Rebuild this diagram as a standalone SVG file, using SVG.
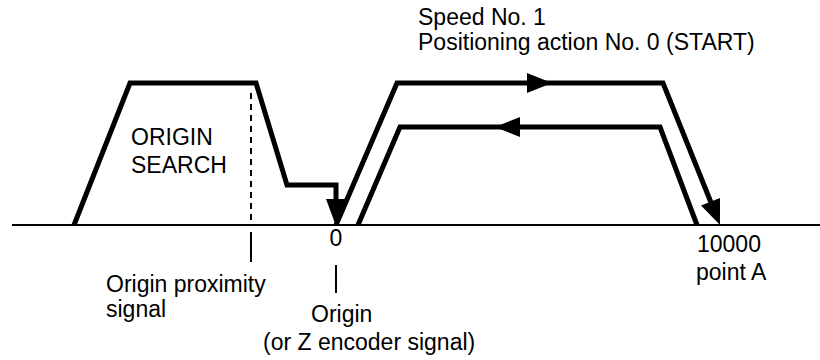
<svg xmlns="http://www.w3.org/2000/svg" width="820" height="360" viewBox="0 0 820 360">
  <style>
    .bg { fill: #ffffff; }
    .prof { fill: none; stroke: #000; stroke-width: 5; stroke-linejoin: miter; stroke-linecap: butt; }
    .axis { fill: none; stroke: #000; stroke-width: 2; }
    .tick { fill: none; stroke: #000; stroke-width: 2; }
    .dash { fill: none; stroke: #000; stroke-width: 2; stroke-dasharray: 6 5; }
    .head { fill: #000; stroke: none; }
    .lbl { font-family: "Liberation Sans", Arial, sans-serif; font-size: 23px; fill: #000; }
  </style>
  <rect class="bg" x="0" y="0" width="820" height="360"/>

  <g id="axis">
    <line class="axis" x1="12" y1="225" x2="820" y2="225"/>
  </g>

  <g id="origin-search">
    <path class="prof" d="M74,225 L130,83 L256,83 L287,185 L336,185 L336,202"/>
    <polygon class="head" points="326,199 346,199 336,226"/>
    <text class="lbl" x="131" y="145">ORIGIN</text>
    <text class="lbl" x="131" y="173">SEARCH</text>
  </g>

  <g id="positioning-forward">
    <path class="prof" d="M336,225 L397,83 L663,83 L712,205"/>
    <polygon class="head" points="527,73 552,83 527,93"/>
    <polygon class="head" points="720,198 720,225 701,205.5"/>
  </g>

  <g id="positioning-return">
    <path class="prof" d="M358,225 L400,127 L660,127 L697,225"/>
    <polygon class="head" points="520,117 495,127 520,137"/>
  </g>

  <g id="connectors">
    <line class="dash" x1="251" y1="93" x2="251" y2="225"/>
    <line class="tick" x1="251" y1="232" x2="251" y2="262"/>
    <line class="tick" x1="336" y1="265" x2="336" y2="293"/>
  </g>

  <g id="labels">
    <text class="lbl" x="418" y="25">Speed No. 1</text>
    <text class="lbl" x="418" y="50">Positioning action No. 0 (START)</text>
    <text class="lbl" x="336" y="246" text-anchor="middle">0</text>
    <text class="lbl" x="106" y="292">Origin proximity</text>
    <text class="lbl" x="106" y="317">signal</text>
    <text class="lbl" x="311" y="322">Origin</text>
    <text class="lbl" x="263" y="350">(or Z encoder signal)</text>
    <text class="lbl" x="697" y="252">10000</text>
    <text class="lbl" x="696" y="280">point A</text>
  </g>
</svg>
